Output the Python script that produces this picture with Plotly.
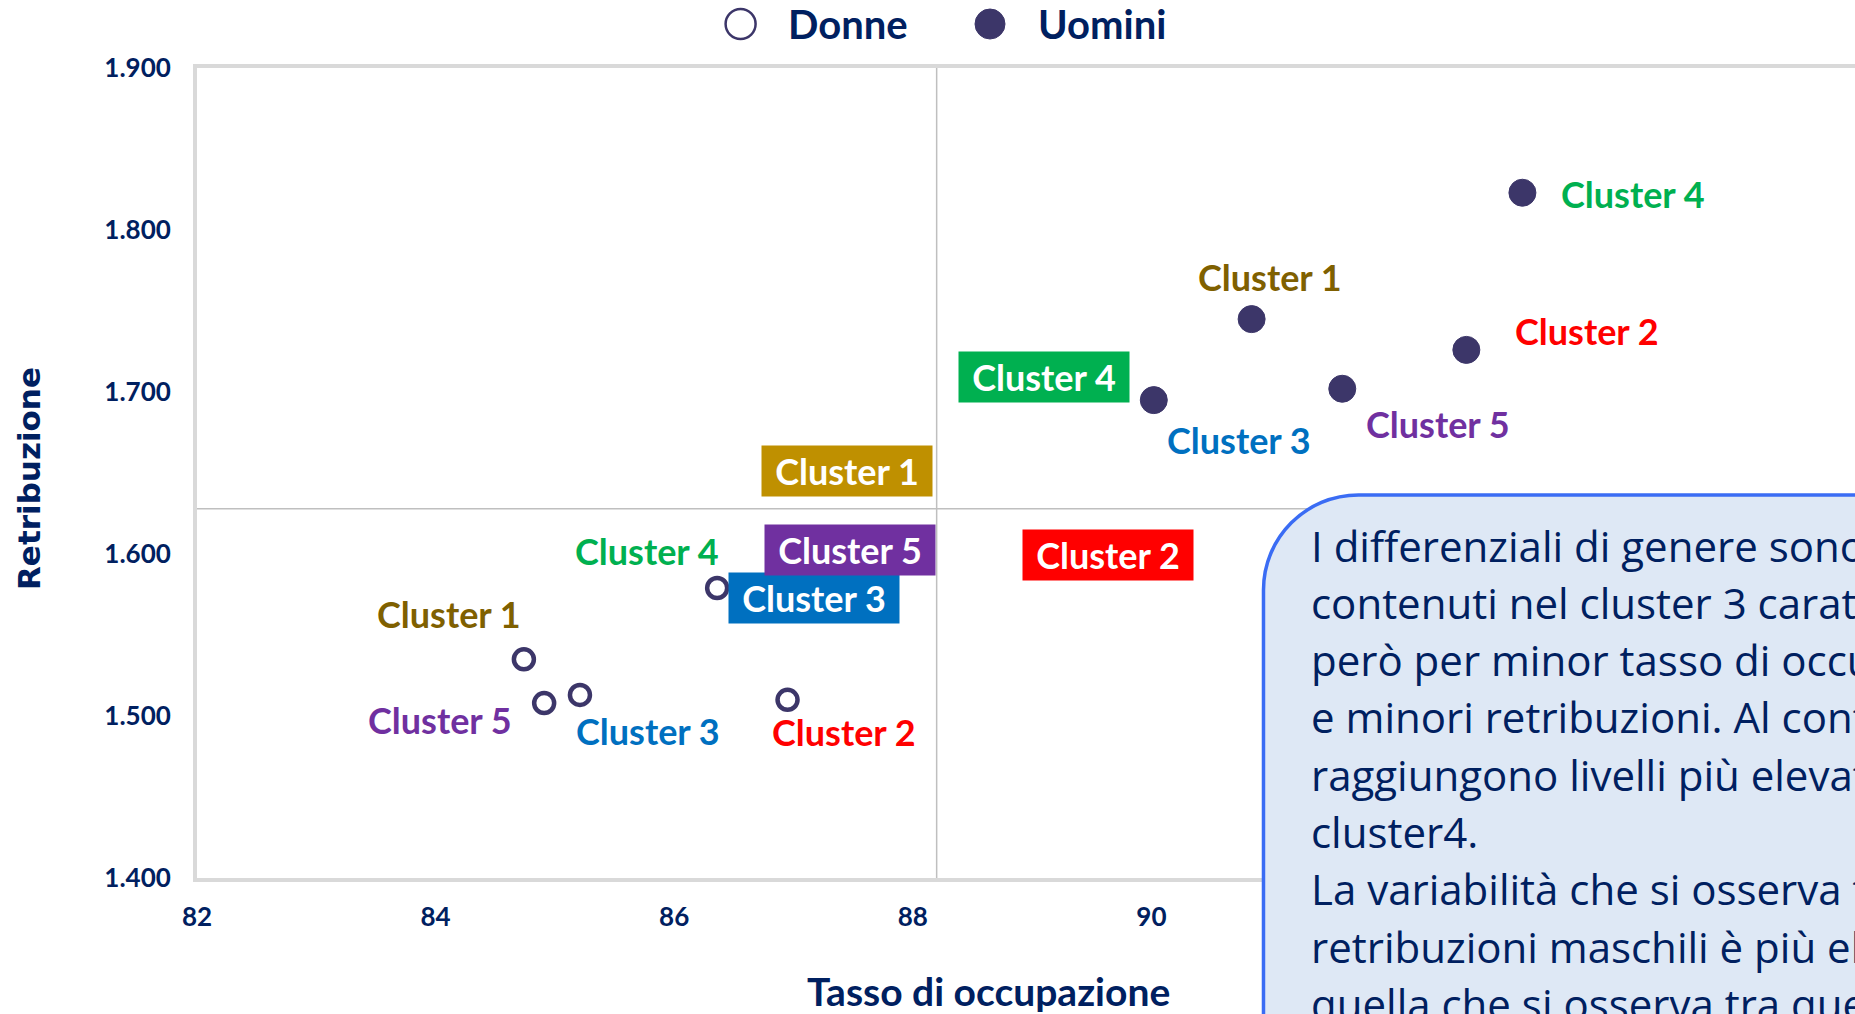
import plotly.graph_objects as go

# ---------------- data ----------------
clusters = ["Cluster 1", "Cluster 2", "Cluster 3", "Cluster 4", "Cluster 5"]
donne_occupazione = [84.74, 86.95, 85.21, 86.36, 84.91]
donne_retribuzione = [1535, 1510, 1513, 1579, 1508]
uomini_occupazione = [90.84, 92.64, 90.02, 93.11, 91.60]
uomini_retribuzione = [1745, 1726, 1695, 1823, 1702]
ref_occupazione = 88.2
ref_retribuzione = 1628
x_tick_values = [82, 84, 86, 88, 90]
y_tick_values = [1400, 1500, 1600, 1700, 1800, 1900]
series_names = ["Donne", "Uomini"]
note_lines = [
    "I differenziali di genere sono",
    "contenuti nel cluster 3 caratterizzato",
    "però per minor tasso di occupazione",
    "e minori retribuzioni. Al contrario",
    "raggiungono livelli più elevati nel",
    "cluster4.",
    "La variabilità che si osserva tra le",
    "retribuzioni maschili è più elevata di",
    "quella che si osserva tra quelle femminili.",
]

# ---------------- styles ----------------
NAVY = "#002060"
MARKER = "#3C3669"
label_colors = ["#7F6000", "#FF0000", "#0070C0", "#00B050", "#7030A0"]
box_colors = ["#BF9000", "#FF0000", "#0070C0", "#00B050", "#7030A0"]
LABEL_FONT = "Lato"
LABEL_SIZE = 36
# label offsets in pixels (dx right, dy down)
donne_label_offsets = [(-75, -45), (56, 32), (68, 36), (-70, -37), (-104, 17)]
uomini_label_offsets = [(18, -42), (121, -19), (85, 40), (111, 1), (96, 35)]
# boxed labels (positions in axis units)
box_label_x = [87.45, 89.64, 87.17, 89.10, 87.47]
box_label_y = [1651.5, 1599.6, 1573.0, 1709.5, 1602.6]

W, H = 1855, 1014
ML, MR, MT, MB = 197, 0, 68, 136
PW, PH = W - ML - MR, H - MT - MB
PX_PER_X = 119.3
x_range = [82, 82 + PW / PX_PER_X]


def px_to_paper(px, py):
    return (px - ML) / PW, (H - MB - py) / PH


fig = go.Figure()

fig.add_trace(go.Scatter(
    x=donne_occupazione, y=donne_retribuzione, mode="markers", name=series_names[0],
    text=clusters,
    marker=dict(symbol="circle", size=20, color="white", line=dict(color=MARKER, width=4.5)),
))
fig.add_trace(go.Scatter(
    x=uomini_occupazione, y=uomini_retribuzione, mode="markers", name=series_names[1],
    text=clusters,
    marker=dict(symbol="circle", size=27, color=MARKER, line=dict(color=MARKER, width=1)),
))

annotations = []
for i, c in enumerate(clusters):
    dx, dy = donne_label_offsets[i]
    annotations.append(dict(x=donne_occupazione[i], y=donne_retribuzione[i], xref="x", yref="y",
                            xanchor="center", yanchor="middle",
                            text=c, showarrow=False, xshift=dx, yshift=-dy,
                            font=dict(family=LABEL_FONT, size=LABEL_SIZE, color=label_colors[i], weight="bold")))
    dx, dy = uomini_label_offsets[i]
    annotations.append(dict(x=uomini_occupazione[i], y=uomini_retribuzione[i], xref="x", yref="y",
                            xanchor="center", yanchor="middle",
                            text=c, showarrow=False, xshift=dx, yshift=-dy,
                            font=dict(family=LABEL_FONT, size=LABEL_SIZE, color=label_colors[i], weight="bold")))
    annotations.append(dict(x=box_label_x[i], y=box_label_y[i], xref="x", yref="y",
                            xanchor="center", yanchor="middle",
                            text=c, showarrow=False, bgcolor=box_colors[i], width=170, height=50,
                            borderpad=0, align="center", valign="middle",
                            font=dict(family=LABEL_FONT, size=LABEL_SIZE, color="white", weight="bold")))

# axis titles
tx, ty = px_to_paper(988, 991)
annotations.append(dict(x=tx, y=ty, xref="paper", yref="paper", xanchor="center", yanchor="middle",
                        text="Tasso di occupazione", showarrow=False,
                        font=dict(family=LABEL_FONT, size=39, color=NAVY, weight="bold")))
tx, ty = px_to_paper(29, 479)
annotations.append(dict(x=tx, y=ty, xref="paper", yref="paper", xanchor="center", yanchor="middle",
                        text="Retribuzione", textangle=-90, showarrow=False,
                        font=dict(family="DejaVu Sans", size=31, color=NAVY, weight="bold")))

# custom legend
shapes = []
legend_items = [(740.6, "white", 2.5, 786), (990, MARKER, 1, 1036)]
for (cx, fill, lw, tx_px), name in zip(legend_items, series_names):
    ax, ay = px_to_paper(cx, 24)
    shapes.append(dict(type="circle", xref="paper", yref="paper", xsizemode="pixel", ysizemode="pixel",
                       xanchor=ax, yanchor=ay, x0=-15, x1=15, y0=-15, y1=15,
                       fillcolor=fill, line=dict(color=MARKER, width=lw)))
    lx, ly = px_to_paper(tx_px, 24)
    annotations.append(dict(x=lx, y=ly, xref="paper", yref="paper", xanchor="left", yanchor="middle",
                            text=name, showarrow=False,
                            font=dict(family=LABEL_FONT, size=40, color=NAVY, weight="bold")))

# reference crosshair
shapes.append(dict(type="line", xref="x", yref="y", x0=ref_occupazione, x1=ref_occupazione,
                   y0=y_tick_values[0], y1=y_tick_values[-1], line=dict(color="#BFBFBF", width=1.5), layer="below"))
shapes.append(dict(type="line", xref="x", yref="y", x0=x_range[0], x1=x_range[1],
                   y0=ref_retribuzione, y1=ref_retribuzione, line=dict(color="#BFBFBF", width=1.5), layer="below"))

# note box (rounded rect, cut off by the page edge)
L, T, R, B, r = 1263.5, 495, 1920, 1080, 95
k = 0.5523


def P(px, py):
    x, y = px_to_paper(px, py)
    return f"{x:.5f},{y:.5f}"


path = (f"M {P(L, B)} L {P(L, T + r)} C {P(L, T + r - k * r)} {P(L + r - k * r, T)} {P(L + r, T)} "
        f"L {P(R, T)} L {P(R, B)} Z")
shapes.append(dict(type="path", xref="paper", yref="paper", path=path, fillcolor="#DEE8F5",
                   line=dict(color="#3A6CF4", width=3.5), layer="above"))

for i, line in enumerate(note_lines):
    lx, ly = px_to_paper(1310, 545 + i * 57.3)
    annotations.append(dict(x=lx, y=ly, xref="paper", yref="paper", xanchor="left", yanchor="middle",
                            text=line, showarrow=False, borderpad=0,
                            font=dict(family="Open Sans", size=42, color=NAVY)))

fig.update_layout(
    width=W, height=H, margin=dict(l=ML, r=MR, t=MT, b=MB, autoexpand=False),
    paper_bgcolor="white", plot_bgcolor="white", showlegend=False,
    separators=",.",
    shapes=shapes, annotations=annotations,
    xaxis=dict(range=x_range, tickvals=x_tick_values, showgrid=False, zeroline=False,
               showline=True, mirror=True, linecolor="#D9D9D9", linewidth=4, ticks="",
               ticklabelstandoff=13,
               tickfont=dict(family=LABEL_FONT, size=26, color=NAVY, weight="bold")),
    yaxis=dict(range=[y_tick_values[0], y_tick_values[-1]], tickvals=y_tick_values, tickformat=",d",
               showgrid=False, zeroline=False, showline=True, mirror=False, linecolor="#D9D9D9",
               linewidth=4, ticks="", ticklabelstandoff=17,
               tickfont=dict(family=LABEL_FONT, size=26, color=NAVY, weight="bold")),
)

fig.write_html("out.html", config={"displayModeBar": False},
               post_script="document.body.style.margin='0';document.body.style.overflow='hidden';")
